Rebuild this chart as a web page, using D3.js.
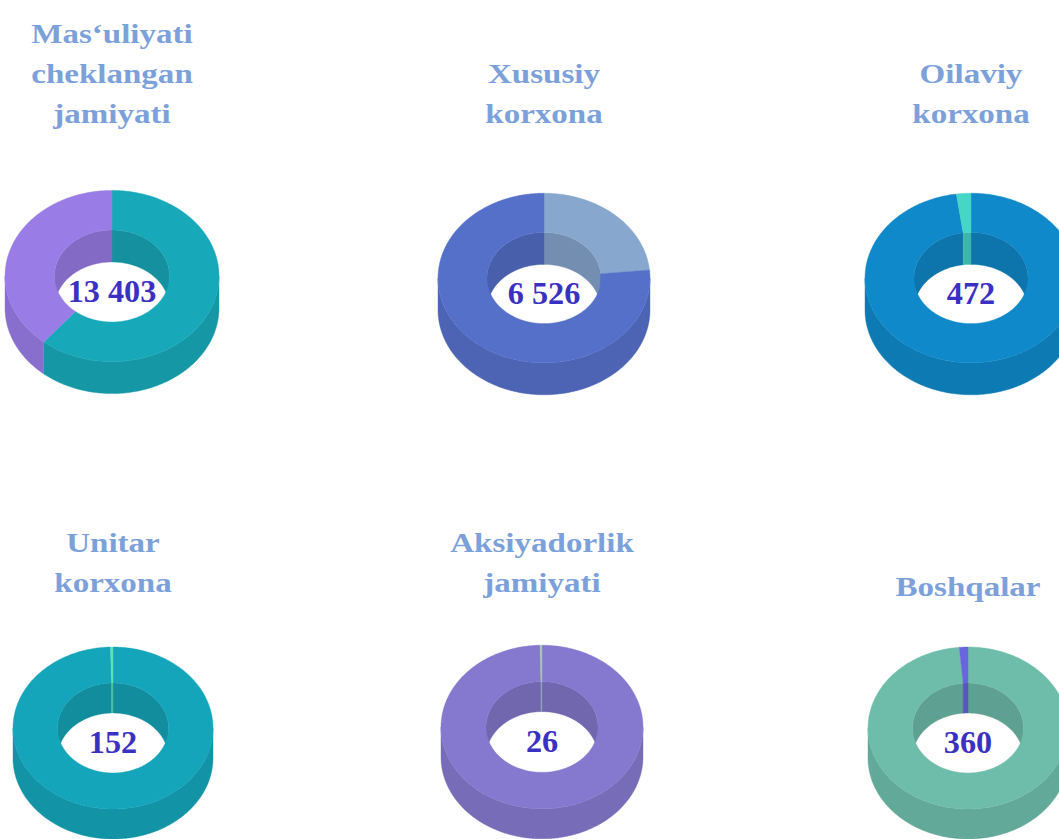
<!DOCTYPE html>
<html><head><meta charset="utf-8">
<script src="https://cdn.jsdelivr.net/npm/d3@7"></script>
<style>html,body{margin:0;padding:0;background:#fff;overflow:hidden}</style>
</head><body><svg id="c" width="1059" height="839"></svg>
<script>
// ---- data ----
const titles = [
  ["Mas‘uliyati", "cheklangan", "jamiyati"],
  ["Xususiy", "korxona"],
  ["Oilaviy", "korxona"],
  ["Unitar", "korxona"],
  ["Aksiyadorlik", "jamiyati"],
  ["Boshqalar"]
];
const totals = ["13 403", "6 526", "472", "152", "26", "360"];
// slice shares (%), clockwise from 12 o'clock
const sliceValues = [
  [61, 39],
  [23.5, 76.5],
  [97.8, 2.2],
  [99.6, 0.4],
  [99.7, 0.3],
  [98.6, 1.4]
];
// ---- style ----
const palettes = [
  ["#17A9BA", "#9A7CE6"],
  ["#87A7CF", "#5570C9"],
  ["#0F89CA", "#45D6C6"],
  ["#14A5BA", "#5BE3B7"],
  ["#8479CE", "#A9C6A6"],
  ["#6EBDAB", "#6965DC"]
];
const layout = [
  {cx: 112, cy: 276, R: 107, r: 57.5, depth: 32, tilt: 0.80, titleBase: 123},
  {cx: 544, cy: 278, R: 106, r: 57, depth: 32, tilt: 0.80, titleBase: 123},
  {cx: 971, cy: 278, R: 106, r: 57, depth: 32, tilt: 0.80, titleBase: 123},
  {cx: 113, cy: 728, R: 100, r: 55.5, depth: 30, tilt: 0.81, titleBase: 592},
  {cx: 542, cy: 727, R: 101, r: 56, depth: 30, tilt: 0.81, titleBase: 592},
  {cx: 968, cy: 728, R: 100, r: 55.5, depth: 30, tilt: 0.81, titleBase: 596}
];

const svg = d3.select("#c");
const pie = d3.pie().sort(null).value(d => d).startAngle(0).endAngle(2 * Math.PI);

function pts(L, rad, a0, a1, dy) {
  const n = Math.max(2, Math.ceil(Math.abs(a1 - a0) / 0.015));
  const out = [];
  for (let i = 0; i <= n; i++) {
    const a = a0 + (a1 - a0) * i / n;
    out.push([L.cx + rad * Math.sin(a), L.cy - rad * Math.cos(a) * L.tilt + dy]);
  }
  return out;
}
function band(L, rad1, a0, a1, dy1, rad2, dy2) {
  const p = pts(L, rad1, a0, a1, dy1).concat(pts(L, rad2, a1, a0, dy2));
  return "M" + p.map(q => q[0].toFixed(2) + "," + q[1].toFixed(2)).join("L") + "Z";
}

sliceValues.forEach((vals, i) => {
  const L = layout[i];
  const arcs = pie(vals);
  const g = svg.append("g");
  const cols = palettes[i];
  // inner back walls
  arcs.forEach((a, j) => {
    const c = d3.color(cols[j]).darker(0.45);
    [[0, Math.PI / 2], [1.5 * Math.PI, 2 * Math.PI]].forEach(([s, e]) => {
      const a0 = Math.max(a.startAngle, s), a1 = Math.min(a.endAngle, e);
      if (a1 > a0) g.append("path").attr("d", band(L, L.r, a0, a1, 0, L.r, L.depth)).attr("fill", c).attr("stroke", c).attr("stroke-width", 0.4);
    });
  });
  // outer front walls
  arcs.forEach((a, j) => {
    const c = d3.color(cols[j]).darker(0.32);
    const a0 = Math.max(a.startAngle, Math.PI / 2), a1 = Math.min(a.endAngle, 1.5 * Math.PI);
    if (a1 > a0) g.append("path").attr("d", band(L, L.R, a0, a1, 0, L.R, L.depth)).attr("fill", c).attr("stroke", c).attr("stroke-width", 0.4);
  });
  // top faces
  arcs.forEach((a, j) => {
    g.append("path").attr("d", band(L, L.R, a.startAngle, a.endAngle, 0, L.r, 0))
      .attr("fill", cols[j]).attr("stroke", cols[j]).attr("stroke-width", 0.4);
  });
  // total in the hole
  g.append("text")
    .attr("transform", `translate(${L.cx},${L.cy + L.depth / 2 + 10}) scale(1.04,1)`)
    .attr("text-anchor", "middle")
    .attr("font-family", "'Liberation Serif','Times New Roman',serif")
    .attr("font-weight", "bold").attr("font-size", 31).attr("fill", "#3A31C2")
    .text(totals[i]);
  // title
  const lines = titles[i];
  lines.forEach((t, k) => {
    svg.append("text")
      .attr("transform", `translate(${L.cx},${L.titleBase - (lines.length - 1 - k) * 40}) scale(1.18,1)`)
      .attr("text-anchor", "middle")
      .attr("font-family", "'Liberation Serif','Times New Roman',serif")
      .attr("font-weight", "bold").attr("font-size", 28).attr("fill", "#7CA1DA")
      .text(t);
  });
});
</script></body></html>
